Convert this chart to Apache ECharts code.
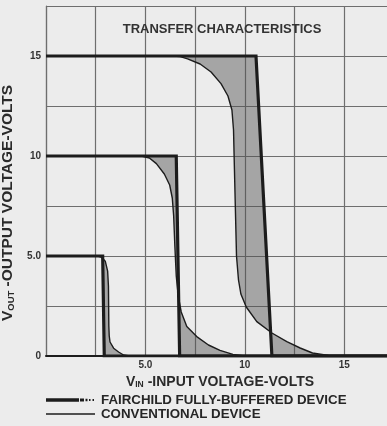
<!DOCTYPE html>
<html>
<head>
<meta charset="utf-8">
<script src="https://cdn.jsdelivr.net/npm/echarts@6/dist/echarts.min.js"></script>
<style>
  html, body { margin: 0; padding: 0; background: #ececec; }
  #chart { width: 387px; height: 426px; }
</style>
</head>
<body>
<div id="chart"></div>
<script>
// Transfer curves, [V_IN, V_OUT] pairs, for supplies of 5, 10 and 15 V
const fairchild5  = [[0, 5], [2.85, 5], [2.93, 0], [17.5, 0]];
const fairchild10 = [[0, 10], [6.55, 10], [6.72, 0], [17.5, 0]];
const fairchild15 = [[0, 15], [10.56, 15], [11.36, 0], [17.5, 0]];

const conventional5 = [[0, 5], [2.6, 5], [2.8, 4.93], [2.98, 4.74], [3.1, 4.24], [3.14, 3.5],
  [3.15, 2.5], [3.16, 1.5], [3.18, 1.0], [3.22, 0.7], [3.4, 0.39], [3.65, 0.2], [3.9, 0.05],
  [4.2, 0], [17.5, 0]];
const conventional10 = [[0, 10], [4.8, 10], [5.2, 9.9], [5.55, 9.62], [5.95, 9.1], [6.22, 8.55],
  [6.35, 7.9], [6.42, 7.0], [6.48, 5.5], [6.55, 4.0], [6.65, 3.0], [6.8, 2.2], [7.08, 1.47],
  [7.58, 0.97], [8.17, 0.55], [8.75, 0.28], [9.4, 0.08], [10.0, 0], [17.5, 0]];
const conventional15 = [[0, 15], [6.4, 15], [6.75, 14.97], [7.12, 14.86], [7.75, 14.6], [8.3, 14.2],
  [8.8, 13.62], [9.15, 13.0], [9.35, 12.3], [9.43, 11.3], [9.46, 10.0], [9.52, 7.5],
  [9.58, 5.0], [9.68, 3.8], [9.8, 3.1], [10.07, 2.45], [10.6, 1.72],
  [11.36, 1.15], [12.11, 0.72], [12.78, 0.4], [13.4, 0.15], [14.2, 0.03], [15.0, 0], [17.5, 0]];

const fairchildCurves = [fairchild5, fairchild10, fairchild15];
const conventionalCurves = [conventional5, conventional10, conventional15];

const xTickLabels = { 5: '5.0', 10: '10', 15: '15' };
const yTickLabels = { 0: '0', 5: '5.0', 10: '10', 15: '15' };

const FAIRCHILD = 'FAIRCHILD FULLY-BUFFERED DEVICE';
const CONVENTIONAL = 'CONVENTIONAL DEVICE';

const ink = '#1c1c1c';
const gridColor = '#6e6e6e';
const fontFamily = '"Liberation Sans", Arial, sans-serif';

const chart = echarts.init(document.getElementById('chart'), null, { renderer: 'canvas' });

const series = [];

// shaded band between the two devices' curves for each supply
series.push({
  type: 'custom',
  name: 'band',
  clip: true,
  z: 1,
  silent: true,
  data: [[0], [1], [2]],
  encode: { x: 0 },
  renderItem: function (params, api) {
    const i = api.value(0);
    const pts = conventionalCurves[i].map(p => api.coord(p))
      .concat(fairchildCurves[i].slice().reverse().map(p => api.coord(p)));
    return {
      type: 'polygon',
      shape: { points: pts },
      style: { fill: 'rgba(80,80,80,0.46)', stroke: null }
    };
  }
});

conventionalCurves.forEach(curve => {
  series.push({
    type: 'line', name: CONVENTIONAL, data: curve, symbol: 'none', z: 3,
    color: ink, lineStyle: { color: ink, width: 1.4 }, silent: true
  });
});
fairchildCurves.forEach(curve => {
  series.push({
    type: 'line', name: FAIRCHILD, data: curve, symbol: 'none', z: 4,
    color: ink, lineStyle: { color: ink, width: 3.2, join: 'miter' }, silent: true
  });
});

const titleRich = {
  v: { fontSize: 14, fontWeight: 'bold', color: '#2a2a2a', fontFamily: fontFamily },
  s: { fontSize: 8.5, fontWeight: 'bold', color: '#2a2a2a', fontFamily: fontFamily, padding: [6, 0, 0, 0] }
};

chart.setOption({
  backgroundColor: '#ececec',
  animation: false,
  textStyle: { fontFamily: fontFamily },
  title: {
    text: 'TRANSFER CHARACTERISTICS',
    left: 217, top: 18, textAlign: 'center',
    textStyle: { fontFamily: fontFamily, fontSize: 13, fontWeight: 'bold', color: '#333' }
  },
  grid: { left: 46, right: -7, top: 6, height: 350, outerBoundsMode: 'none', containLabel: false },
  xAxis: {
    type: 'value', min: 0, max: 17.5, interval: 2.5,
    axisLine: { show: true, lineStyle: { color: ink, width: 2 } },
    axisTick: { show: false },
    splitLine: { show: true, lineStyle: { color: gridColor, width: 1.2 } },
    axisLabel: {
      margin: 4, fontSize: 10, fontWeight: 'bold', color: '#333', fontFamily: fontFamily,
      formatter: v => xTickLabels[v] || ''
    },
    name: '{v|V}{s|IN}{v| -INPUT VOLTAGE-VOLTS}',
    nameLocation: 'middle', nameGap: 12,
    nameTextStyle: { rich: titleRich }
  },
  yAxis: {
    type: 'value', min: 0, max: 17.5, interval: 2.5,
    axisLine: { show: true, lineStyle: { color: gridColor, width: 1.2 } },
    axisTick: { show: false },
    splitLine: { show: true, lineStyle: { color: gridColor, width: 1.2 } },
    axisLabel: {
      margin: 5, fontSize: 10, fontWeight: 'bold', color: '#333', fontFamily: fontFamily,
      formatter: v => yTickLabels[v] || ''
    },
    name: '{v|V}{s|OUT}{v| -OUTPUT VOLTAGE-VOLTS}',
    nameLocation: 'middle', nameGap: 20, nameRotate: 90,
    nameTextStyle: {
      padding: [0, 44, 0, 0],
      rich: {
        v: { fontSize: 15.5, fontWeight: 'bold', color: '#2a2a2a', fontFamily: fontFamily },
        s: { fontSize: 9.5, fontWeight: 'bold', color: '#2a2a2a', fontFamily: fontFamily, padding: [7, 0, 0, 0] }
      }
    }
  },
  legend: {
    orient: 'vertical', left: 46, top: 393, padding: 0,
    itemWidth: 50, itemHeight: 10, itemGap: 0,
    selectedMode: false,
    itemStyle: { borderWidth: 0 },
    textStyle: { fontFamily: fontFamily, fontSize: 13.3, fontWeight: 'bold', color: '#262626', lineHeight: 14 },
    data: [
      { name: FAIRCHILD,
        icon: 'path://M0,0L0,0ZM50,10L50,10ZM0,3.3H33V6.7H0ZM34,3.6H38V6.4H34ZM39.5,3.8H41.5V6.2H39.5ZM43,4H44.5V6H43ZM46.5,4H48V6H46.5Z' },
      { name: CONVENTIONAL,
        icon: 'path://M0,0L0,0ZM50,10L50,10ZM0,4.2H49V5.8H0Z' }
    ]
  },
  series: series
});
</script>
</body>
</html>
